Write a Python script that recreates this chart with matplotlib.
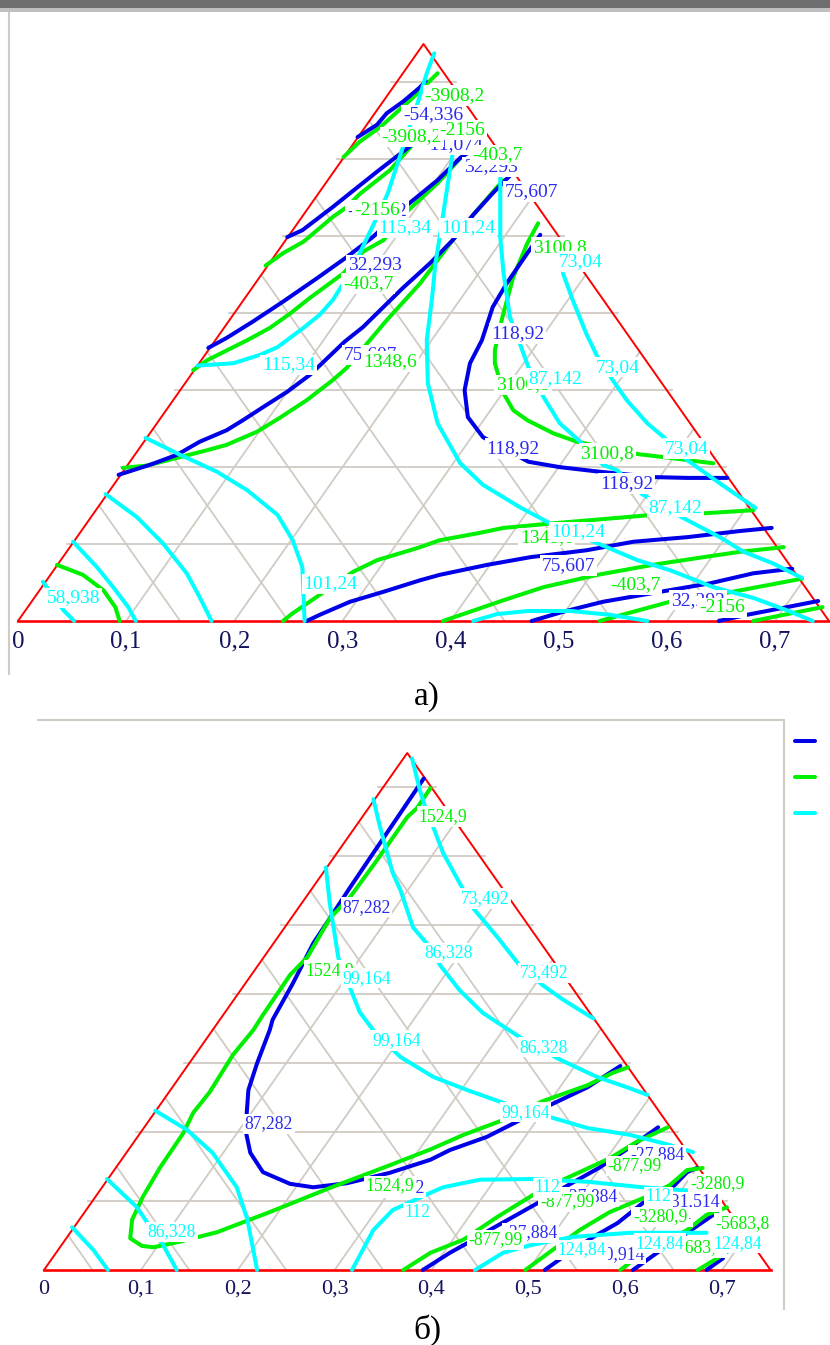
import matplotlib
matplotlib.use("Agg")
import matplotlib.pyplot as plt
from matplotlib.lines import Line2D
from matplotlib.patches import Rectangle

plt.rcParams['font.family'] = ['Liberation Serif', 'DejaVu Sans']

W, H = 830, 1345
BLUE, GREEN, CYAN = '#0000e8', '#00f000', '#00ffff'
RED = '#ff0000'
GRID = '#d0ccc4'
NAVY = '#14145e'

tick_values = [0, 0.1, 0.2, 0.3, 0.4, 0.5, 0.6, 0.7]
tick_labels = ['0', '0,1', '0,2', '0,3', '0,4', '0,5', '0,6', '0,7']
grid_levels = [0.1, 0.2, 0.3, 0.4, 0.5, 0.6, 0.7]
grid_back = [0.05, 0.15, 0.25, 0.35, 0.45, 0.55, 0.65]

# ---------- panel a: contour lines as (x, height) ----------
a_blue = [
    [(.314,.629),(.332,.645),(.341,.660),(.356,.675),(.372,.694),(.377,.702)],
    [(.249,.499),(.263,.508),(.291,.538),(.307,.556),(.332,.584),(.344,.597),(.356,.610),(.372,.628)],
    [(.176,.355),(.193,.368),(.217,.389),(.245,.415),(.277,.446),(.304,.473),(.328,.499),(.361,.542),(.388,.573),(.409,.602),(.420,.612)],
    [(.093,.190),(.122,.203),(.147,.216),(.168,.233),(.193,.248),(.208,.261),(.230,.281),(.249,.298),(.270,.320),(.302,.363),(.319,.382),(.356,.433),(.381,.465),(.402,.495),(.421,.528),(.439,.556),(.455,.579)],
    [(.483,.502),(.471,.478),(.452,.439),(.439,.408),(.429,.365),(.418,.335),(.413,.300),(.416,.265),(.430,.239),(.472,.207),(.501,.200),(.538,.194),(.589,.187),(.619,.186),(.656,.186)],
    [(.267,0),(.279,.008),(.307,.025),(.338,.038),(.372,.053),(.390,.060),(.434,.073),(.474,.083),(.526,.092),(.569,.103),(.619,.109),(.668,.117),(.697,.121)],
    [(.475,0),(.504,.012),(.541,.025),(.594,.038),(.640,.049),(.680,.062),(.716,.068)],
    [(.648,0),(.674,.008),(.711,.018),(.740,.026)],
]
a_green = [
    [(.301,.603),(.316,.623),(.335,.642),(.365,.680),(.388,.712)],
    [(.229,.462),(.245,.478),(.264,.493),(.291,.525),(.304,.538),(.316,.555),(.344,.586),(.363,.616),(.376,.638)],
    [(.162,.326),(.175,.339),(.212,.365),(.233,.381),(.252,.400),(.270,.420),(.301,.452),(.319,.480),(.338,.495),(.361,.534),(.388,.569),(.412,.606),(.418,.612)],
    [(.097,.199),(.119,.202),(.147,.212),(.175,.222),(.193,.229),(.221,.246),(.242,.264),(.267,.287),(.291,.313),(.304,.329),(.323,.361),(.341,.391),(.372,.439),(.388,.469),(.402,.495),(.421,.528),(.443,.564),(.449,.573)],
    [(.481,.517),(.471,.491),(.458,.447),(.448,.395),(.441,.352),(.441,.335),(.449,.296),(.458,.274),(.471,.261),(.495,.244),(.517,.233),(.573,.217),(.597,.213),(.643,.205)],
    [(.245,0),(.254,.010),(.279,.034),(.310,.064),(.332,.079),(.372,.096),(.390,.105),(.425,.114),(.449,.121),(.495,.127),(.554,.134),(.587,.138),(.634,.140),(.680,.144)],
    [(.393,0),(.418,.012),(.449,.027),(.486,.044),(.536,.060),(.587,.073),(.634,.083),(.668,.090),(.708,.096)],
    [(.538,0),(.569,.012),(.603,.025),(.661,.038),(.725,.055)],
    [(.680,0),(.708,.008),(.744,.018)],
    [(.036,.073),(.060,.060),(.079,.040),(.090,.018),(.094,0)],
]
a_cyan = [
    [(.385,.738),(.378,.712),(.370,.675),(.356,.616),(.342,.556),(.330,.519),(.316,.478),(.300,.437),(.291,.417),(.279,.398),(.264,.381),(.240,.356),(.224,.346),(.199,.335),(.166,.332)],
    [(.405,.632),(.402,.608),(.397,.564),(.390,.499),(.386,.465),(.383,.421),(.378,.365),(.379,.309),(.388,.257),(.409,.205),(.430,.177),(.464,.148),(.492,.127),(.536,.101),(.573,.079),(.603,.066),(.643,.044),(.680,.030),(.711,.014),(.735,0)],
    [(.446,.577),(.446,.499),(.449,.452),(.455,.395),(.464,.361),(.472,.330),(.486,.291),(.501,.257),(.520,.233),(.541,.203),(.554,.196),(.577,.165),(.615,.134),(.649,.109),(.671,.090),(.698,.075),(.725,.056)],
    [(.504,.452),(.513,.417),(.526,.372),(.536,.343),(.550,.313),(.563,.287),(.582,.257),(.598,.238),(.619,.209),(.649,.179),(.682,.147)],
    [(.023,.051),(.042,.014),(.052,0)],
    [(.051,.103),(.073,.070),(.088,.044),(.102,.018),(.109,0)],
    [(.081,.165),(.110,.135),(.134,.101),(.156,.062),(.168,.031),(.179,0)],
    [(.118,.238),(.150,.216),(.184,.194),(.212,.170),(.240,.138),(.254,.105),(.263,.070),(.265,0)],
    [(.421,0),(.443,.009),(.471,.013),(.511,.013),(.548,.008),(.582,0)],
]
a_blue_labels = ['-54,336','-11,074','32,293','32,293','75,607','75,607','118,92','118,92','118,92','75,607','32,293','-11,072']
a_blue_x = [.384,.402,.437,.330,.475,.326,.462,.458,.563,.509,.629,.332]
a_blue_y = [.658,.619,.590,.463,.558,.346,.374,.224,.179,.072,.027,.534]
a_green_labels = ['-3908,2','-3908,2','-2156','-403,7','-2156','3100,8','-403,7','1348,6','3100,8','3100,8','1348,6','-403,7','-2156']
a_green_x = [.404,.364,.411,.443,.332,.501,.324,.344,.467,.545,.489,.571,.651]
a_green_y = [.683,.629,.638,.606,.534,.486,.439,.337,.307,.218,.108,.047,.017]
a_cyan_labels = ['115,34','101,24','73,04','115,34','87,142','73,04','73,04','87,142','101,24','101,24','58,938']
a_cyan_x = [.358,.416,.520,.250,.497,.555,.618,.608,.518,.289,.051]
a_cyan_y = [.511,.511,.467,.333,.315,.330,.224,.148,.116,.048,.030]

# ---------- panel b ----------
b_blue = [
    [(.392,.713),(.368,.663),(.340,.605),(.316,.555),(.295,.510),(.278,.474),(.257,.416),(.236,.363),(.233,.348),(.220,.300),(.211,.261),(.208,.203),(.213,.170),(.226,.142),(.254,.125),(.278,.120),(.313,.126),(.357,.141),(.399,.160),(.419,.174),(.457,.193),(.488,.215),(.522,.239),(.561,.265),(.595,.296)],
    [(.391,0),(.399,.007),(.419,.025),(.437,.039),(.460,.058),(.488,.080),(.512,.099),(.536,.119),(.574,.149),(.608,.181),(.634,.207)],
    [(.517,0),(.536,.019),(.567,.048),(.592,.068),(.618,.097),(.646,.116),(.664,.142),(.674,.148)],
    [(.608,0),(.633,.025),(.664,.054),(.695,.084)],
    [(.684,0),(.701,.017)],
]
b_green = [
    [(.399,.699),(.385,.670),(.375,.657),(.344,.595),(.316,.541),(.295,.510),(.272,.454),(.254,.428),(.226,.370),(.216,.348),(.195,.312),(.171,.258),(.154,.228),(.144,.199),(.120,.149),(.102,.106),(.091,.073),(.089,.046),(.101,.035),(.113,.033),(.140,.041),(.179,.055),(.233,.084),(.295,.119),(.357,.152),(.399,.175),(.433,.196),(.471,.216),(.515,.245),(.561,.268),(.587,.286),(.603,.294)],
    [(.371,0),(.399,.025),(.433,.044),(.468,.077),(.505,.109),(.536,.131),(.584,.162),(.612,.186),(.644,.207)],
    [(.497,0),(.525,.029),(.553,.058),(.584,.084),(.618,.104),(.646,.123),(.664,.145),(.680,.148)],
    [(.595,0),(.618,.025),(.664,.058),(.684,.080),(.705,.091)],
    [(.675,0),(.695,.017),(.708,.029)],
]
b_cyan = [
    [(.380,.742),(.388,.696),(.393,.674),(.402,.642),(.412,.605),(.432,.554),(.443,.525),(.468,.483),(.491,.442),(.515,.413),(.536,.392),(.567,.365)],
    [(.340,.683),(.347,.642),(.360,.576),(.368,.551),(.381,.497),(.395,.474),(.409,.442),(.429,.406),(.453,.373),(.491,.338),(.530,.307),(.571,.280),(.602,.265),(.623,.254)],
    [(.291,.584),(.295,.532),(.304,.452),(.316,.409),(.326,.374),(.342,.344),(.368,.309),(.402,.280),(.437,.261),(.471,.244),(.522,.222),(.561,.206),(.605,.196),(.639,.184),(.670,.171)],
    [(.318,0),(.340,.058),(.360,.087),(.399,.112),(.412,.120),(.450,.131),(.502,.132),(.561,.128),(.618,.120),(.667,.115),(.698,.109)],
    [(.445,0),(.474,.025),(.502,.036),(.546,.048),(.605,.054),(.684,.054)],
    [(.115,.231),(.148,.203),(.174,.170),(.199,.120),(.210,.073),(.220,0)],
    [(.065,.132),(.096,.091),(.107,.068),(.122,.039),(.137,0)],
    [(.029,.062),(.051,.029),(.066,0)],
]
b_blue_labels = ['87,282','87,282','87,282','-27,884','-27,884','-31,514','-31,514','-27,884','-40,914']
b_blue_x = [.333,.232,.368,.633,.564,.670,.640,.502,.592]
b_blue_y = [.526,.212,.119,.167,.106,.099,.077,.054,.023]
b_green_labels = ['1524,9','1524,9','1524,9','-877,99','-3280,9','-877,99','-3280,9','-5683,8','-5683,8','-877,99']
b_green_x = [.412,.295,.357,.610,.695,.540,.636,.721,.675,.466]
b_green_y = [.658,.435,.122,.151,.125,.099,.077,.068,.032,.044]
b_cyan_labels = ['73,492','73,492','86,328','86,328','99,164','99,164','86,328','112','99,164','112','112','124,84','124,84','124,84']
b_cyan_x = [.455,.516,.418,.516,.333,.364,.132,.386,.497,.520,.634,.716,.636,.555]
b_cyan_y = [.539,.431,.460,.323,.423,.333,.055,.083,.229,.119,.106,.039,.039,.029]

fig = plt.figure(figsize=(W / 100, H / 100), dpi=100, facecolor='white')


def panel(left, right, base, apex, curves, labels, label_size, tick_size, pad):
    ax = fig.add_axes([left / W, 1 - base / H, (right - left) / W, (base - apex) / H])
    ax.set_xlim(0, 0.75)
    ax.set_ylim(0, 0.75)
    ax.patch.set_visible(False)
    for s in ax.spines.values():
        s.set_visible(False)
    ax.set_yticks([])
    ax.set_xticks(tick_values, tick_labels)
    ax.tick_params(axis='x', length=0, pad=pad, labelsize=tick_size, labelcolor=NAVY)
    for lab in ax.get_xticklabels():
        lab.set_verticalalignment('baseline')
    ext = 0.005
    gk = dict(color=GRID, lw=1.3, zorder=1, clip_on=False)
    for k in grid_levels:
        ax.plot([k / 2 - ext, 0.75 - k / 2 + ext], [k, k], **gk)
        ax.plot([k, k + (0.75 - k) / 2], [0, 0.75 - k], **gk)
    for c in grid_back:
        ax.plot([c, c / 2], [0, c], **gk)
    ax.plot([0, 0.375, 0.75], [0, 0.75, 0], color=RED, lw=1.4, zorder=2, clip_on=False)
    ax.plot([0, 0.75], [0, 0], color=RED, lw=1.9, zorder=2, clip_on=False)
    for color, group in curves:
        for curve in group:
            xs, ys = zip(*curve)
            ax.plot(xs, ys, color=color, lw=2.9, zorder=3, clip_on=False,
                    solid_capstyle='round', solid_joinstyle='round')
    z = 4
    for color, texts, xs, ys in labels:
        for t, x, y in zip(texts, xs, ys):
            ax.text(x, y, t, color=color, fontsize=label_size, ha='center', va='center', zorder=z,
                    clip_on=False, bbox=dict(fc='white', ec='none', pad=1.2))
            z += 0.01
    return ax


panel(18, 829, 621, 44,
      [(GREEN, a_green), (BLUE, a_blue), (CYAN, a_cyan)],
      [('#2a2af0', a_blue_labels, a_blue_x, a_blue_y),
       (GREEN, a_green_labels, a_green_x, a_green_y),
       (CYAN, a_cyan_labels, a_cyan_x, a_cyan_y)],
      14, 18, 19.4)
panel(44, 770.5, 1270, 753,
      [(BLUE, b_blue), (GREEN, b_green), (CYAN, b_cyan)],
      [('#2a2af0', b_blue_labels, b_blue_x, b_blue_y),
       (GREEN, b_green_labels, b_green_x, b_green_y),
       (CYAN, b_cyan_labels, b_cyan_x, b_cyan_y)],
      12.7, 16, 17.3)


def fx(p):
    return p / W


def fy(p):
    return 1 - p / H


def fig_line(x0, y0, x1, y1, color, lw):
    fig.add_artist(Line2D([fx(x0), fx(x1)], [fy(y0), fy(y1)], color=color, lw=lw,
                          solid_capstyle='butt', transform=fig.transFigure))


# window chrome and frames
fig.add_artist(Rectangle((0, fy(8)), 1, 8 / H, transform=fig.transFigure, fc='#6e6e6e', ec='none'))
fig.add_artist(Rectangle((0, fy(12)), 1, 4 / H, transform=fig.transFigure, fc='#c0c0c0', ec='none'))
fig_line(9, 12, 9, 675, GRID, 1.5)
fig_line(37, 720, 785, 720, GRID, 1.5)
fig_line(784, 720, 784, 1310, GRID, 1.5)

# legend keys
for yy, col in zip([741, 777, 813], [BLUE, GREEN, CYAN]):
    fig.add_artist(Line2D([fx(795), fx(815)], [fy(yy), fy(yy)], color=col, lw=2.9,
                          solid_capstyle='round', transform=fig.transFigure))

fig.text(fx(427), fy(697), 'а)', fontsize=24, ha='center', va='center', color='black')
fig.text(fx(427), fy(1330), 'б)', fontsize=24, ha='center', va='center', color='black')

fig.savefig('out.png', dpi=100, facecolor='white')
